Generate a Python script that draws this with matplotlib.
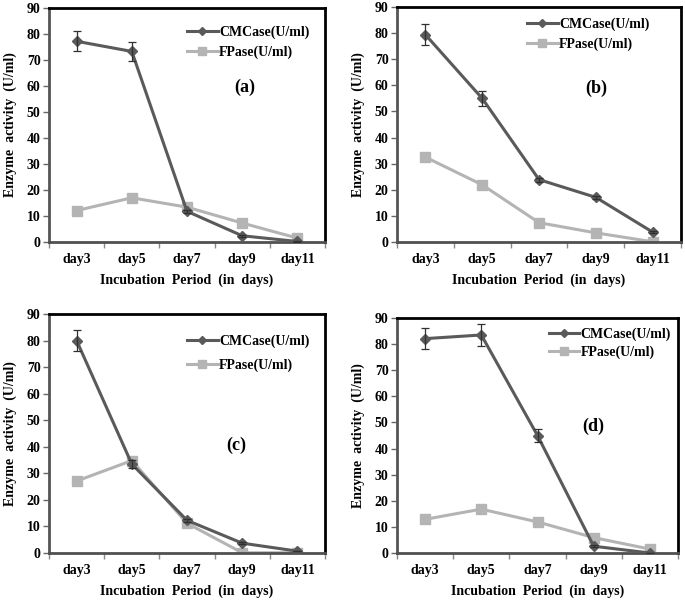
import matplotlib
matplotlib.use('Agg')
import matplotlib.pyplot as plt

plt.rcParams['font.family'] = 'Liberation Serif'
plt.rcParams['font.weight'] = 'bold'
plt.rcParams['axes.labelweight'] = 'bold'

days = ['day3', 'day5', 'day7', 'day9', 'day11']

# panel (a)
cmc_a = [77.2, 73.3, 11.8, 2.4, 0.2]
cmc_a_err = [3.9, 3.8, 0.6, 0.4, 0.1]
fp_a = [12.1, 17.0, 13.4, 7.3, 1.5]
# panel (b)
cmc_b = [79.4, 55.0, 23.9, 17.1, 3.8]
cmc_b_err = [4.0, 3.0, 0.8, 0.6, 0.3]
fp_b = [32.5, 21.9, 7.4, 3.5, 0.1]
# panel (c)
cmc_c = [80.0, 33.5, 12.3, 3.7, 0.7]
cmc_c_err = [4.1, 1.5, 0.6, 0.4, 0.1]
fp_c = [27.1, 34.8, 11.2, 0.1, 0.1]
# panel (d)
cmc_d = [82.1, 83.5, 45.0, 2.6, 0.0]
cmc_d_err = [4.0, 4.2, 2.4, 0.3, 0.1]
fp_d = [12.9, 16.8, 11.9, 5.9, 1.5]

W, H = 685, 601
fig = plt.figure(figsize=(W / 100, H / 100), dpi=100)

panels = [
    # data, axes box in px (left, top, right, bottom), label pos, legend pos, legend spacing
    (cmc_a, cmc_a_err, fp_a, (49, 8, 325, 242), '(a)', (0.71, 0.66), (0.50, 0.925), 0.45),
    (cmc_b, cmc_b_err, fp_b, (397, 7, 681, 242), '(b)', (0.70, 0.655), (0.458, 0.955), 0.45),
    (cmc_c, cmc_c_err, fp_c, (49, 314, 325, 553), '(c)', (0.68, 0.45), (0.50, 0.915), 0.75),
    (cmc_d, cmc_d_err, fp_d, (397, 318, 678, 553), '(d)', (0.70, 0.54), (0.54, 0.96), 0.3),
]

x = list(range(1, len(days) + 1))

for cmc, err, fp, box, tag, tagpos, legpos, lspace in panels:
    l, t, r, b = box
    ax = fig.add_axes([l / W, 1 - b / H, (r - l) / W, (b - t) / H])

    ax.errorbar(x, cmc, yerr=err, fmt='none', ecolor='#303030', elinewidth=0.9,
                capsize=3, capthick=0.9, zorder=4)
    h1, = ax.plot(x, cmc, color='#5a5a5a', lw=2.2, marker='D', ms=5,
                  label='CMCase(U/ml)', zorder=3)
    h2, = ax.plot(x, fp, color='#b4b4b4', lw=2.2, marker='s', ms=7,
                  label='FPase(U/ml)', zorder=2)

    ax.set_xlim(0.5, 5.5)
    ax.set_ylim(0, 90)
    ax.set_yticks(range(0, 91, 10))
    ax.set_xticks(x)
    ax.set_xticklabels(days)
    ax.set_xticks([i + 0.5 for i in range(0, 6)], minor=True)
    ax.tick_params(axis='x', which='major', length=0, pad=8, labelsize=10)
    ax.tick_params(axis='x', which='minor', length=4, color='#888888', width=1)
    ax.tick_params(axis='y', length=4, color='#666666', width=1, labelsize=10, pad=2)

    for side in ['top', 'right']:
        ax.spines[side].set_color('black')
        ax.spines[side].set_linewidth(2)
    ax.spines['left'].set_color('#555555')
    ax.spines['left'].set_linewidth(2)
    ax.spines['bottom'].set_color('#505050')
    ax.spines['bottom'].set_linewidth(2)

    ax.set_xlabel('Incubation  Period  (in  days)', fontsize=10, labelpad=5)
    ax.set_ylabel('Enzyme  activity  (U/ml)', fontsize=10, labelpad=7)

    ax.text(tagpos[0], tagpos[1], tag, transform=ax.transAxes, fontsize=13,
            fontweight='bold', ha='center', va='center')

    ax.legend(handles=[h1, h2], loc='upper left', bbox_to_anchor=legpos, frameon=False,
              fontsize=10, borderpad=0, borderaxespad=0, handlelength=2.2,
              handletextpad=0.1, labelspacing=lspace, markerscale=0.8)

fig.savefig('out.png', dpi=100)
